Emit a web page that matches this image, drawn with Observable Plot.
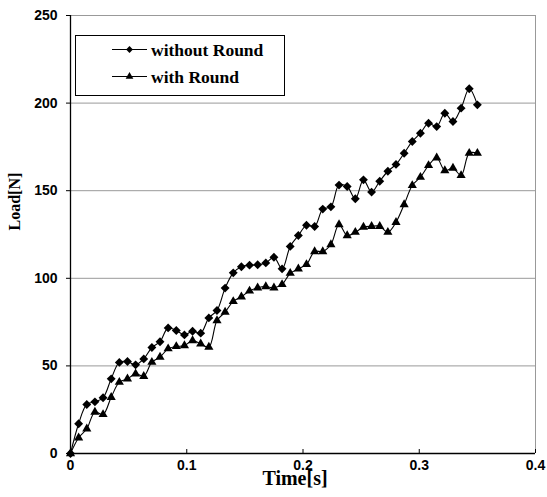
<!DOCTYPE html>
<html><head><meta charset="utf-8">
<script src="https://cdn.jsdelivr.net/npm/d3@7"></script>
<script src="https://cdn.jsdelivr.net/npm/@observablehq/plot@0.6"></script>
<style>
body{margin:0;background:#fff;}
#wrap{position:relative;width:547px;height:497px;}
#legend{position:absolute;left:75px;top:35px;}
</style></head>
<body><div id="wrap"></div>
<script>
const time = [0,0.007,0.014,0.021,0.028,0.035,0.042,0.049,0.056,0.063,0.07,0.077,0.084,0.091,0.098,0.105,0.112,0.119,0.126,0.133,0.14,0.147,0.154,0.161,0.168,0.175,0.182,0.189,0.196,0.203,0.21,0.217,0.224,0.231,0.238,0.245,0.252,0.259,0.266,0.273,0.28,0.287,0.294,0.301,0.308,0.315,0.322,0.329,0.336,0.343,0.35];
const withoutRound = [0,17,28,29.5,31.8,42.6,52,52.5,50.6,54,60.5,63.8,71.7,70.2,67.7,69.8,68.7,77.4,81.6,94.4,103.1,106.6,107.5,107.7,108.8,112,105.4,118.2,124.4,130.3,129.6,139.5,140.8,153.2,152.4,145.4,156.2,149.2,155.4,161.1,165,171.4,178.1,182.8,188.5,186.6,194.2,189.5,197.1,208.2,199];
const withRound = [0,9,14.1,23.6,22.3,32.1,40.7,42.6,45.5,44.1,52.1,55,59.8,61.1,61.6,64.5,62.6,60.7,75.9,80.7,86.8,89.4,92.8,94.6,95.3,94.6,96.5,102.9,105.4,107.9,115.3,115.3,119.3,130.7,124.4,126.3,129.2,129.7,129.7,126.3,132,142.1,153,157.7,164.4,168.8,161.5,162.9,158.7,171.4,171.4];
const xTicks = [0,0.1,0.2,0.3,0.4];
const xTickLabels = ["0","0.1","0.2","0.3","0.4"];
const yTicks = [0,50,100,150,200,250];
const seriesNames = ["without Round","with Round"];

const dataA = time.map((t,i)=>({t, v: withoutRound[i]}));
const dataB = time.map((t,i)=>({t, v: withRound[i]}));

const serif = "'Liberation Serif','Times New Roman',serif";
const chart = Plot.plot({
  width:547, height:497,
  marginLeft:70, marginRight:12, marginTop:15, marginBottom:44,
  style:{fontFamily:"'Liberation Sans',Arial,sans-serif", fontSize:"14px", fontWeight:"bold", color:"#000", background:"#fff"},
  x:{domain:[0,0.4]},
  y:{domain:[0,250]},
  marks:[
    Plot.ruleY(yTicks.filter(v=>v>0), {stroke:"#999", strokeWidth:1}),
    Plot.ruleX([0.4], {stroke:"#999", strokeWidth:1}),
    Plot.ruleY([0], {stroke:"#000", strokeWidth:1.3}),
    Plot.ruleX([0], {stroke:"#000", strokeWidth:1.3}),
    Plot.tickX(xTicks.slice(1), {x:d=>d, insetTop:434, stroke:"#000"}),
    Plot.axisX({ticks:xTicks, tickSize:0, tickPadding:7, tickFormat:(d,i)=>xTickLabels[i], label:null}),
    Plot.axisY({ticks:yTicks, tickSize:4, tickPadding:9, tickFormat:d=>String(d), label:null}),
    Plot.line(dataA, {x:"t", y:"v", stroke:"#000", strokeWidth:1.1, curve:"catmull-rom"}),
    Plot.line(dataB, {x:"t", y:"v", stroke:"#000", strokeWidth:1.1, curve:"catmull-rom"}),
    Plot.dot(dataA, {x:"t", y:"v", symbol:"diamond2", r:4, fill:"#000", stroke:"none"}),
    Plot.dot(dataB, {x:"t", y:"v", symbol:"triangle", r:3.4, fill:"#000", stroke:"none"}),
    Plot.text(["Load[N]"], {frameAnchor:"left", dx:-56, dy:-4, rotate:-90, fontFamily:serif, fontWeight:"bold", fontSize:16}),
    Plot.text(["Time[s]"], {frameAnchor:"bottom", dx:-8, dy:31, fontFamily:serif, fontWeight:"bold", fontSize:20})
  ]
});
const wrap = document.getElementById("wrap");
wrap.appendChild(chart);

// legend
const lg = d3.select(wrap).append("svg").attr("id","legend").attr("width",210).attr("height",61);
lg.append("rect").attr("x",0.5).attr("y",0.5).attr("width",209).attr("height",60).attr("fill","#fff").attr("stroke","#000");
const syms = [d3.symbolDiamond2, d3.symbolTriangle];
const sizes = [30, 26];
seriesNames.forEach((name,i)=>{
  const y = i===0 ? 14.5 : 41.5;
  lg.append("line").attr("x1",37).attr("x2",72).attr("y1",y).attr("y2",y).attr("stroke","#000").attr("stroke-width",1.1);
  lg.append("path").attr("d", d3.symbol(syms[i], sizes[i])()).attr("transform",`translate(54.5,${y})`).attr("fill","#000");
  lg.append("text").attr("x",76).attr("y",y).attr("dy","0.35em").attr("font-family",serif).attr("font-weight","bold").attr("font-size",17.5).text(name);
});
</script>
</body></html>
